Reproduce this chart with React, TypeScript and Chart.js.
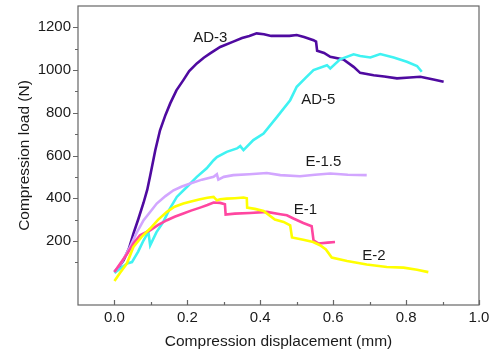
import React, { useEffect, useRef } from "react";
import { Chart, registerables } from "chart.js";

Chart.register(...registerables);

// ---- Data ----
const ad3X = [0, 0.012, 0.025, 0.04, 0.052, 0.066, 0.08, 0.09, 0.098, 0.112, 0.125, 0.14, 0.153, 0.17, 0.189, 0.205, 0.226, 0.245, 0.2625, 0.29, 0.326, 0.35, 0.37, 0.39, 0.41, 0.43, 0.455, 0.48, 0.5, 0.52, 0.546, 0.553, 0.556, 0.575, 0.592, 0.628, 0.656, 0.674, 0.711, 0.74, 0.775, 0.81, 0.839, 0.875, 0.903];
const ad3Y = [55, 78, 109, 165, 234, 305, 380, 440, 505, 625, 718, 790, 844, 905, 953, 995, 1031, 1058, 1078, 1108, 1133, 1150, 1160, 1172, 1168, 1160, 1160, 1160, 1164, 1155, 1140, 1133, 1090, 1080, 1062, 1050, 1015, 987, 976, 970, 961, 965, 969, 956, 945];

const ad5X = [0, 0.015, 0.034, 0.048, 0.065, 0.08, 0.093, 0.098, 0.115, 0.134, 0.15, 0.171, 0.2, 0.226, 0.253, 0.272, 0.281, 0.308, 0.336, 0.345, 0.354, 0.381, 0.409, 0.446, 0.482, 0.5, 0.525, 0.546, 0.583, 0.592, 0.619, 0.656, 0.674, 0.702, 0.729, 0.766, 0.802, 0.83, 0.843];
const ad5Y = [50, 70, 94, 101, 150, 203, 242, 180, 240, 289, 345, 406, 455, 500, 540, 578, 593, 617, 633, 644, 625, 672, 703, 781, 859, 922, 965, 1000, 1023, 1008, 1050, 1074, 1066, 1059, 1075, 1059, 1039, 1019, 992];

const e15X = [0, 0.02, 0.043, 0.06, 0.08, 0.1, 0.116, 0.14, 0.162, 0.185, 0.208, 0.24, 0.272, 0.281, 0.285, 0.3, 0.326, 0.37, 0.418, 0.455, 0.509, 0.55, 0.592, 0.64, 0.692];
const e15Y = [55, 100, 172, 235, 297, 340, 375, 410, 437, 455, 469, 487, 500, 512, 487, 500, 508, 512, 518, 508, 503, 510, 516, 510, 508];

const e1X = [0, 0.016, 0.035, 0.052, 0.07, 0.098, 0.12, 0.144, 0.165, 0.189, 0.21, 0.235, 0.255, 0.272, 0.29, 0.303, 0.305, 0.33, 0.372, 0.418, 0.455, 0.473, 0.491, 0.518, 0.541, 0.546, 0.56, 0.585, 0.605];
const e1Y = [55, 94, 140, 188, 226, 250, 275, 297, 313, 328, 342, 356, 368, 380, 378, 372, 323, 328, 331, 336, 325, 320, 305, 284, 269, 203, 188, 192, 195];

const e2X = [0, 0.015, 0.034, 0.052, 0.075, 0.098, 0.12, 0.144, 0.165, 0.189, 0.21, 0.235, 0.255, 0.272, 0.281, 0.29, 0.308, 0.33, 0.354, 0.363, 0.364, 0.385, 0.409, 0.44, 0.464, 0.482, 0.487, 0.518, 0.545, 0.564, 0.58, 0.596, 0.638, 0.692, 0.747, 0.793, 0.83, 0.861];
const e2Y = [12, 50, 94, 172, 220, 258, 300, 336, 360, 375, 385, 395, 402, 406, 390, 395, 398, 400, 403, 400, 356, 350, 340, 300, 289, 273, 216, 206, 195, 180, 160, 122, 106, 90, 78, 75, 65, 54];

const seriesNames = ["AD-3", "AD-5", "E-1.5", "E-1", "E-2"];
const seriesColors = ["#4f0aa0", "#3ff2f2", "#d2a6ff", "#ff46a0", "#ffff00"];

const labelTexts = ["AD-3", "AD-5", "E-1.5", "E-1", "E-2"];
const labelX = [0.263, 0.559, 0.573, 0.524, 0.712];
const labelY = [1149, 859, 568, 344, 128];

const xTickValues = [0, 0.2, 0.4, 0.6, 0.8, 1.0];
const yTickValues = [200, 400, 600, 800, 1000, 1200];

const FONT = "'Liberation Sans', Arial, sans-serif";
const AXIS_COLOR = "#666666";
const TEXT_COLOR = "#1a1a1a";

function zip(xs: number[], ys: number[]) {
  return xs.map((x, i) => ({ x, y: ys[i] }));
}

const framePlugin = {
  id: "frameTicks",
  afterDatasetsDraw(chart: any) {
    const { ctx, chartArea } = chart;
    const xs = chart.scales.x;
    const ys = chart.scales.y;
    ctx.save();
    // labels
    ctx.fillStyle = TEXT_COLOR;
    ctx.font = `15px ${FONT}`;
    ctx.textAlign = "center";
    ctx.textBaseline = "middle";
    labelTexts.forEach((t, i) => {
      ctx.fillText(t, xs.getPixelForValue(labelX[i]), ys.getPixelForValue(labelY[i]));
    });
    // frame
    ctx.strokeStyle = AXIS_COLOR;
    ctx.lineWidth = 1.2;
    ctx.strokeRect(chartArea.left, chartArea.top, chartArea.right - chartArea.left, chartArea.bottom - chartArea.top);
    // x ticks (inside)
    ctx.beginPath();
    for (let i = 0; i <= 10; i++) {
      const v = i / 10;
      const px = Math.round(xs.getPixelForValue(v)) + 0.5;
      const len = i % 2 === 0 ? 5 : 3;
      ctx.moveTo(px, chartArea.bottom);
      ctx.lineTo(px, chartArea.bottom - len);
    }
    // y ticks (outside)
    for (let v = 100; v <= 1200; v += 100) {
      const py = Math.round(ys.getPixelForValue(v)) + 0.5;
      const len = v % 200 === 0 ? 5 : 3;
      ctx.moveTo(chartArea.left, py);
      ctx.lineTo(chartArea.left - len, py);
    }
    ctx.stroke();
    ctx.restore();
  },
};

export default function App() {
  const ref = useRef<HTMLCanvasElement | null>(null);
  useEffect(() => {
    document.body.style.margin = "0";
    const canvas = ref.current!;
    const datasets = [
      [ad3X, ad3Y],
      [ad5X, ad5Y],
      [e15X, e15Y],
      [e1X, e1Y],
      [e2X, e2Y],
    ].map(([xs, ys], i) => ({
      label: seriesNames[i],
      data: zip(xs, ys),
      borderColor: seriesColors[i],
      backgroundColor: seriesColors[i],
      borderWidth: 2.6,
      pointRadius: 0,
      tension: 0,
      fill: false,
    }));
    const order = [4, 3, 2, 1, 0];
    const chart = new Chart(canvas, {
      type: "line",
      data: { datasets: order.map((i) => datasets[i]) },
      options: {
        responsive: false,
        animation: false,
        events: [],
        layout: { padding: { left: 0, right: 10, top: 6, bottom: 0 } },
        plugins: { legend: { display: false }, tooltip: { enabled: false } },
        scales: {
          x: {
            type: "linear",
            min: -0.1,
            max: 1.0,
            afterFit: (s: any) => { s.height = 48; s.paddingLeft = 0; s.paddingRight = 0; },
            afterBuildTicks: (s: any) => { s.ticks = xTickValues.map((v) => ({ value: v })); },
            grid: { display: false, drawTicks: false },
            border: { display: false },
            ticks: {
              autoSkip: false,
              maxRotation: 0,
              padding: 4,
              color: TEXT_COLOR,
              font: { family: FONT, size: 15 },
              callback: (v: any) => Number(v).toFixed(1),
            },
            title: {
              display: true,
              text: "Compression displacement (mm)",
              color: TEXT_COLOR,
              font: { family: FONT, size: 15.5 },
              padding: { top: 0, bottom: 2 },
            },
          },
          y: {
            type: "linear",
            min: -100,
            max: 1300,
            afterFit: (s: any) => { s.width = 78; s.paddingTop = 0; s.paddingBottom = 0; },
            afterBuildTicks: (s: any) => { s.ticks = yTickValues.map((v) => ({ value: v })); },
            grid: { display: false, drawTicks: false },
            border: { display: false },
            ticks: {
              autoSkip: false,
              padding: 7,
              color: TEXT_COLOR,
              font: { family: FONT, size: 15 },
              callback: (v: any) => String(v),
            },
            title: {
              display: true,
              text: "Compression load (N)",
              color: TEXT_COLOR,
              font: { family: FONT, size: 15.5 },
              padding: { top: 15, bottom: 0 },
            },
          },
        },
      },
      plugins: [framePlugin],
    });
    return () => chart.destroy();
  }, []);
  return <canvas ref={ref} width={489} height={353} style={{ display: "block" }} />;
}
